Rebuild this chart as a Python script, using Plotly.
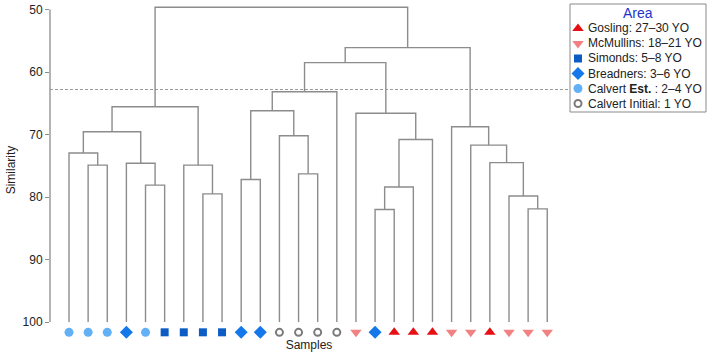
import plotly.graph_objects as go

# ---------------- data ----------------
leaf_groups = [
    "Calvert Est.", "Calvert Est.", "Calvert Est.", "Breadners", "Calvert Est.",
    "Simonds", "Simonds", "Simonds", "Simonds", "Breadners", "Breadners",
    "Calvert Initial", "Calvert Initial", "Calvert Initial", "Calvert Initial",
    "McMullins", "Breadners", "Gosling", "Gosling", "Gosling",
    "McMullins", "McMullins", "Gosling", "McMullins", "McMullins", "McMullins",
]

# agglomerative merges (scipy-like: ids 0..25 are leaves, 26+ are merged clusters)
merge_left = [1, 0, 4, 3, 7, 6, 27, 32, 9, 12, 11, 34, 37, 16, 39, 40, 15, 38, 24, 23, 22, 21, 20, 43, 33]
merge_right = [2, 26, 5, 28, 8, 30, 29, 31, 10, 13, 35, 36, 14, 17, 18, 19, 41, 42, 25, 44, 45, 46, 47, 48, 49]
merge_similarity = [74.9, 72.95, 78.1, 74.6, 79.5, 74.9, 69.55, 65.55, 77.2, 76.3, 70.2, 66.2, 63.15,
                    82.0, 78.4, 70.8, 66.6, 58.5, 81.9, 79.85, 74.5, 71.7, 68.75, 56.1, 49.65]
leaf_similarity = 100

group_names = ["Gosling", "McMullins", "Simonds", "Breadners", "Calvert Est.", "Calvert Initial"]
group_labels = ["Gosling: 27–30 YO", "McMullins: 18–21 YO", "Simonds: 5–8 YO",
                "Breadners: 3–6 YO", "Calvert <b>Est.</b> : 2–4 YO", "Calvert Initial: 1 YO"]
cut_similarity = 62.8
y_ticks = [50, 60, 70, 80, 90, 100]

# ---------------- styles ----------------
group_style = {
    "Gosling": dict(symbol="triangle-up", color="#e60f14", size=10),
    "McMullins": dict(symbol="triangle-down", color="#f28282", size=10),
    "Simonds": dict(symbol="square", color="#0b5cc4", size=8),
    "Breadners": dict(symbol="diamond", color="#1477ea", size=10),
    "Calvert Est.": dict(symbol="circle", color="#62b1f6", size=9),
    "Calvert Initial": dict(symbol="circle-open", color="#7a7a7a", size=7),
}
LINE_COLOR = "#8c8c8c"
FONT = "Liberation Sans, Arial, sans-serif"

W, H = 709, 355
ML, MR, MT, MB = 50, 2, 2, 17
PW, PH = W - ML - MR, H - MT - MB


def px_x(px):
    return (px - ML) / PW


def px_y(py):
    return (H - MB - py) / PH


# ---------------- dendrogram geometry ----------------
n_leaves = len(leaf_groups)
node_x = {i: float(i) for i in range(n_leaves)}
node_h = {i: leaf_similarity for i in range(n_leaves)}
xs, ys = [], []
for k, (a, b, h) in enumerate(zip(merge_left, merge_right, merge_similarity)):
    nid = n_leaves + k
    xs += [node_x[a], node_x[a], node_x[b], node_x[b], None]
    ys += [node_h[a], h, h, node_h[b], None]
    node_x[nid] = (node_x[a] + node_x[b]) / 2
    node_h[nid] = h

fig = go.Figure()
fig.add_trace(go.Scatter(x=xs, y=ys, mode="lines", line=dict(color=LINE_COLOR, width=1.4),
                         hoverinfo="skip", showlegend=False, xaxis="x", yaxis="y"))

marker_row = leaf_similarity + 1.65
for g in group_names:
    idx = [i for i, lg in enumerate(leaf_groups) if lg == g]
    st = group_style[g]
    fig.add_trace(go.Scatter(
        x=idx, y=[marker_row] * len(idx), mode="markers", name=g, showlegend=False,
        cliponaxis=False,
        marker=dict(symbol=st["symbol"], color=st["color"], size=st["size"],
                    line=dict(width=2 if "open" in st["symbol"] else 0, color=st["color"])),
        xaxis="x", yaxis="y"))

# ---------------- custom legend ----------------
box_left, box_right, box_top, box_bottom = 570, 706, 4, 112
row_y0, row_step = 24.5, 15
for r, g in enumerate(group_names):
    st = group_style[g]
    fig.add_trace(go.Scatter(
        x=[8], y=[row_y0 + r * row_step], mode="markers", showlegend=False, hoverinfo="skip",
        cliponaxis=False,
        marker=dict(symbol=st["symbol"], color=st["color"], size=st["size"],
                    line=dict(width=2 if "open" in st["symbol"] else 0, color=st["color"])),
        xaxis="x2", yaxis="y2"))
    fig.add_annotation(x=16, y=row_y0 + r * row_step, xref="x2", yref="y2", text=group_labels[r],
                       showarrow=False, xanchor="left", yanchor="middle",
                       font=dict(family=FONT, size=12, color="#222222"))
fig.add_annotation(x=(box_right - box_left) / 2, y=9, xref="x2", yref="y2", text="Area",
                   showarrow=False, xanchor="center", yanchor="middle",
                   font=dict(family=FONT, size=14, color="#2233cc"))
fig.add_shape(type="rect", xref="paper", yref="paper",
              x0=px_x(box_left), x1=px_x(box_right), y0=px_y(box_bottom), y1=px_y(box_top),
              line=dict(color="#8a8a8a", width=1), fillcolor="rgba(0,0,0,0)")

# cut line
fig.add_shape(type="line", xref="x domain", yref="y", x0=0, x1=1, y0=cut_similarity, y1=cut_similarity,
              line=dict(color="#9a9a9a", width=1, dash="3px,2px"))
# y axis line from 50 to 100
fig.add_shape(type="line", xref="x domain", yref="y", x0=0, x1=0, y0=min(y_ticks), y1=max(y_ticks),
              line=dict(color="#8c8c8c", width=1.3))

x_right_px = 568
x_lo = (ML - 69) / 19.13
x_hi = (x_right_px - 69) / 19.13
y_top = 50 - (9.5 - MT) / 6.25
y_bot = 50 + (H - MB - 9.5) / 6.25

fig.update_layout(
    width=W, height=H, margin=dict(l=ML, r=MR, t=MT, b=MB),
    plot_bgcolor="white", paper_bgcolor="white",
    font=dict(family=FONT, size=12, color="#222222"),
    xaxis=dict(domain=[0, px_x(x_right_px)], range=[x_lo, x_hi], showticklabels=False,
               showgrid=False, zeroline=False, showline=False, ticks="",
               title=dict(text="Samples", font=dict(size=12, color="#222222"), standoff=2)),
    yaxis=dict(range=[y_bot, y_top], tickvals=y_ticks, ticks="outside", ticklen=4,
               tickcolor="#8c8c8c", tickwidth=1, showgrid=False, zeroline=False, showline=False,
               tickfont=dict(size=12, color="#222222"),
               title=dict(text="Similarity", font=dict(size=12, color="#222222"), standoff=4),
               automargin=False),
    xaxis2=dict(domain=[px_x(box_left), px_x(box_right)], range=[0, box_right - box_left],
                visible=False, anchor="y2"),
    yaxis2=dict(domain=[px_y(box_bottom), px_y(box_top)], range=[box_bottom - box_top, 0],
                visible=False, anchor="x2"),
    showlegend=False,
)

fig.write_html("out.html", config={"displayModeBar": False},
               post_script="document.body.style.margin='0';")
